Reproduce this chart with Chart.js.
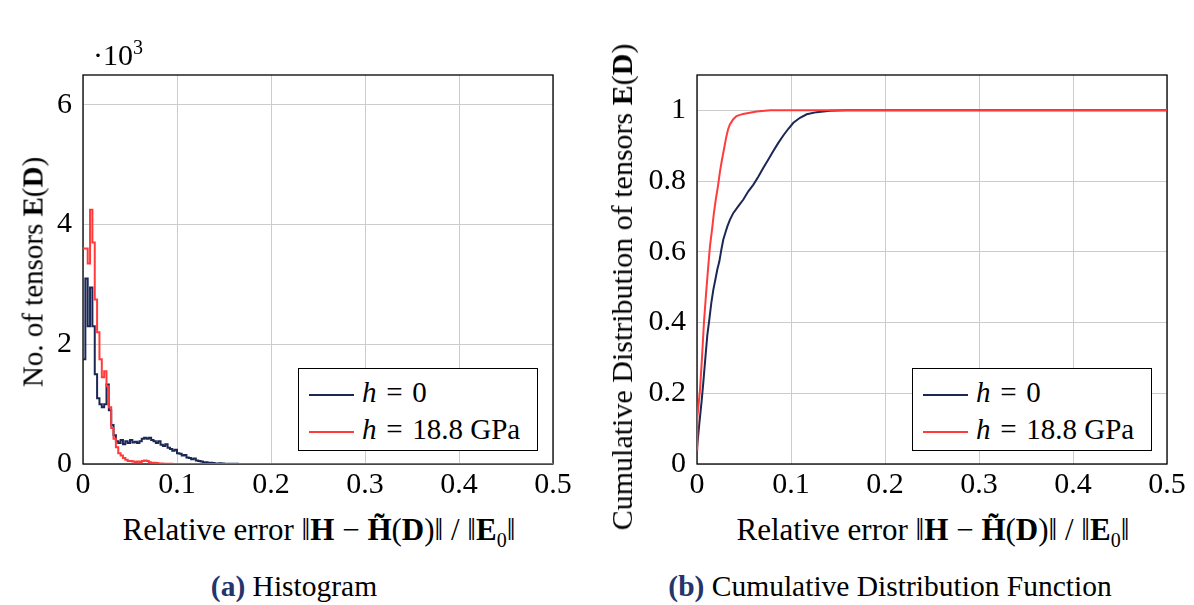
<!DOCTYPE html>
<html>
<head>
<meta charset="utf-8">
<script src="https://cdn.jsdelivr.net/npm/chart.js@4.4.1/dist/chart.umd.min.js"></script>
<style>
  body { margin: 0; width: 1194px; height: 605px; position: relative; overflow: hidden; background: #fff;
         font-family: "Liberation Serif", serif; color: #000; }
  canvas { position: absolute; top: 0; }
  .txt { position: absolute; white-space: nowrap; font-size: 30px; line-height: normal; }
  .ytitle { transform: translate(-50%, -50%) rotate(-90deg); }
  .xtitle { transform: translate(-50%, 0); }
  .legend { position: absolute; width: 238px; height: 81px; border: 1.3px solid #000; background: #fff; }
  .legend .row { position: absolute; left: 0; height: 36px; line-height: 36px; font-size: 29px; white-space: nowrap; }
  .legend .sw { display: inline-block; width: 45px; border-top: 2px solid; vertical-align: middle; margin: 0 8px 0 10px; }
  .cap b { color: #25346b; }
</style>
</head>
<body>
<canvas id="histChart" width="597" height="500" style="left:0"></canvas>
<canvas id="cdfChart" width="580" height="500" style="left:614px"></canvas>

<div class="txt" style="left:93px; top:36px">·10<sup style="font-size:20px">3</sup></div>
<div class="txt ytitle" style="left:33px; top:272px; font-size:29px">No. of tensors <b>E</b>(<b>D</b>)</div>
<div class="txt ytitle" style="left:622px; top:287px">Cumulative Distribution of tensors <b>E</b>(<b>D</b>)</div>
<div class="txt xtitle" style="left:319px; top:512px; font-size:31px">Relative error ‖<b>H</b> − <b>H̃</b>(<b>D</b>)‖ / ‖<b>E</b><sub style="font-size:20px">0</sub>‖</div>
<div class="txt xtitle" style="left:933px; top:512px; font-size:31px">Relative error ‖<b>H</b> − <b>H̃</b>(<b>D</b>)‖ / ‖<b>E</b><sub style="font-size:20px">0</sub>‖</div>
<div class="txt xtitle cap" style="left:294px; top:570px; font-size:29.5px"><b>(a)</b> Histogram</div>
<div class="txt xtitle cap" style="left:890px; top:570px; font-size:29.5px"><b>(b)</b> Cumulative Distribution Function</div>
<div class="legend" id="histLegend" style="left:298px; top:368px"></div>
<div class="legend" id="cdfLegend" style="left:912px; top:368px"></div>

<script>
// series names and colours
const seriesNames = ['h = 0', 'h = 18.8 GPa'];
const blueColor = '#1b2856';
const redColor = '#ff3b3b';

// histogram: counts (in thousands) per bin of width 0.0025, starting at 0
const binWidth = 0.0025;
const histBlue = [1.75, 3.1, 2.3, 2.95, 2.3, 1.5, 1.1, 1.0, 0.95, 1.0, 1.33, 0.9, 0.65, 0.48, 0.38,
    0.35, 0.4, 0.33, 0.38, 0.35, 0.4, 0.36, 0.37, 0.35, 0.38, 0.42, 0.44, 0.42, 0.44, 0.4,
    0.38, 0.35, 0.38, 0.32, 0.3, 0.33, 0.27, 0.25, 0.22, 0.24, 0.18, 0.17, 0.14, 0.15, 0.11,
    0.1, 0.08, 0.09, 0.06, 0.05, 0.04, 0.03, 0.03, 0.02, 0.02, 0.015, 0.01, 0.01, 0.012, 0.008,
    0.006, 0.005, 0.004, 0.006, 0.003, 0.003, 0.002, 0.002, 0];
const histRed = [3.6, 3.6, 3.35, 4.25, 3.7, 2.75, 2.2, 1.75, 1.45, 1.55, 1.3, 0.95, 0.6, 0.42, 0.28,
    0.18, 0.14, 0.1, 0.07, 0.05, 0.05, 0.04, 0.03, 0.04, 0.03, 0.05, 0.06, 0.05, 0.03, 0.02,
    0.02, 0.015, 0.01, 0.01, 0.005, 0.005, 0.004, 0.003, 0.002, 0.002, 0];

// cumulative distribution, read at the curve's corners
const cdfBlueX = [0, 0.0025, 0.005, 0.0067, 0.0089, 0.011, 0.0131, 0.0152, 0.0174, 0.0195, 0.0216,
    0.0238, 0.0259, 0.028, 0.0301, 0.0323, 0.0351, 0.0387, 0.044, 0.0493, 0.0546, 0.06, 0.0652,
    0.0706, 0.0759, 0.0812, 0.0865, 0.0918, 0.0972, 0.1025, 0.1096, 0.1167, 0.1273, 0.1415, 0.159, 0.5];
const cdfBlueY = [0.045, 0.115, 0.18, 0.23, 0.30, 0.365, 0.408, 0.455, 0.493, 0.521, 0.55,
    0.573, 0.606, 0.635, 0.653, 0.672, 0.691, 0.71, 0.729, 0.748, 0.771, 0.79, 0.812,
    0.838, 0.861, 0.885, 0.908, 0.929, 0.948, 0.965, 0.979, 0.989, 0.995, 0.999, 1.0, 1.0];
const cdfRedX = [0, 0.0003, 0.0032, 0.0053, 0.0074, 0.0096, 0.0117, 0.0138, 0.016, 0.018, 0.020,
    0.0223, 0.0245, 0.0266, 0.0287, 0.031, 0.033, 0.035, 0.0386, 0.042, 0.049, 0.0635, 0.078, 0.5];
const cdfRedY = [0.04, 0.13, 0.21, 0.30, 0.40, 0.48, 0.55, 0.616, 0.663, 0.71, 0.748,
    0.786, 0.828, 0.861, 0.89, 0.923, 0.946, 0.96, 0.975, 0.984, 0.99, 0.997, 1.0, 1.0];

// ticks
const xTicks = [0, 0.1, 0.2, 0.3, 0.4, 0.5];
const histYTicks = [0, 2, 4, 6];
const cdfYTicks = [0, 0.2, 0.4, 0.6, 0.8, 1];

const xMax = 0.5;

function histPoints(counts) {
    const pts = counts.map((c, i) => ({ x: i * binWidth, y: c }));
    pts.push({ x: xMax, y: 0 });
    return pts;
}

function zipPoints(xs, ys) {
    return xs.map((x, i) => ({ x: x, y: ys[i] }));
}

const tickFont = { family: '"Liberation Serif", serif', size: 30 };

/* black frame round the plot area, drawn under the data */
const frameBox = {
    id: 'frameBox',
    beforeDatasetsDraw(chart) {
        const a = chart.chartArea;
        const c = chart.ctx;
        c.save();
        c.strokeStyle = '#000';
        c.lineWidth = 1.3;
        c.strokeRect(a.left, a.top, a.right - a.left, a.bottom - a.top);
        c.restore();
    }
};

function makeOptions(yMax, yTicks, rightPad) {
    return {
        responsive: false,
        animation: false,
        devicePixelRatio: 1,
        layout: { padding: { left: 0, top: 75, right: rightPad, bottom: 0 } },
        plugins: { legend: { display: false }, tooltip: { enabled: false } },
        elements: { point: { radius: 0 } },
        scales: {
            x: {
                type: 'linear',
                min: 0,
                max: xMax,
                afterBuildTicks: (scale) => { scale.ticks = xTicks.map(v => ({ value: v })); },
                afterFit: (scale) => { scale.height = 36; },
                grid: { color: '#cccccc', drawTicks: false },
                border: { display: false },
                ticks: { font: tickFont, color: '#000', padding: 3, maxRotation: 0,
                    callback: (v) => String(v) }
            },
            y: {
                type: 'linear',
                min: 0,
                max: yMax,
                afterBuildTicks: (scale) => { scale.ticks = yTicks.map(v => ({ value: v })); },
                afterFit: (scale) => { scale.width = 83; },
                grid: { color: '#cccccc', drawTicks: false },
                border: { display: false },
                ticks: { font: tickFont, color: '#000', padding: 11,
                    callback: (v) => String(v) }
            }
        }
    };
}

const histChart = new Chart(document.getElementById('histChart'), {
    type: 'line',
    data: {
        datasets: [
            { label: seriesNames[0], data: histPoints(histBlue), borderColor: blueColor,
              borderWidth: 2, stepped: true, order: 1 },
            { label: seriesNames[1], data: histPoints(histRed), borderColor: redColor,
              borderWidth: 2, stepped: true, order: 0 }
        ]
    },
    options: makeOptions(6.5, histYTicks, 44),
    plugins: [frameBox]
});

const cdfChart = new Chart(document.getElementById('cdfChart'), {
    type: 'line',
    data: {
        datasets: [
            { label: seriesNames[0], data: zipPoints(cdfBlueX, cdfBlueY), borderColor: blueColor,
              borderWidth: 2, order: 1 },
            { label: seriesNames[1], data: zipPoints(cdfRedX, cdfRedY), borderColor: redColor,
              borderWidth: 2, order: 0 }
        ]
    },
    options: makeOptions(1.1, cdfYTicks, 27),
    plugins: [frameBox]
});

// legends as html so the "h" can be italic
function buildLegend(chart, id) {
    const box = document.getElementById(id);
    chart.data.datasets.forEach((ds, i) => {
        const row = document.createElement('div');
        row.className = 'row';
        row.style.top = (5 + i * 37) + 'px';
        const rest = ds.label.slice(1).replace(' = ', ' \u200A=\u200A ');
        row.innerHTML = '<span class="sw" style="border-color:' + ds.borderColor + '"></span><i>h</i>' + rest;
        box.appendChild(row);
    });
}
buildLegend(histChart, 'histLegend');
buildLegend(cdfChart, 'cdfLegend');
</script>
</body>
</html>
